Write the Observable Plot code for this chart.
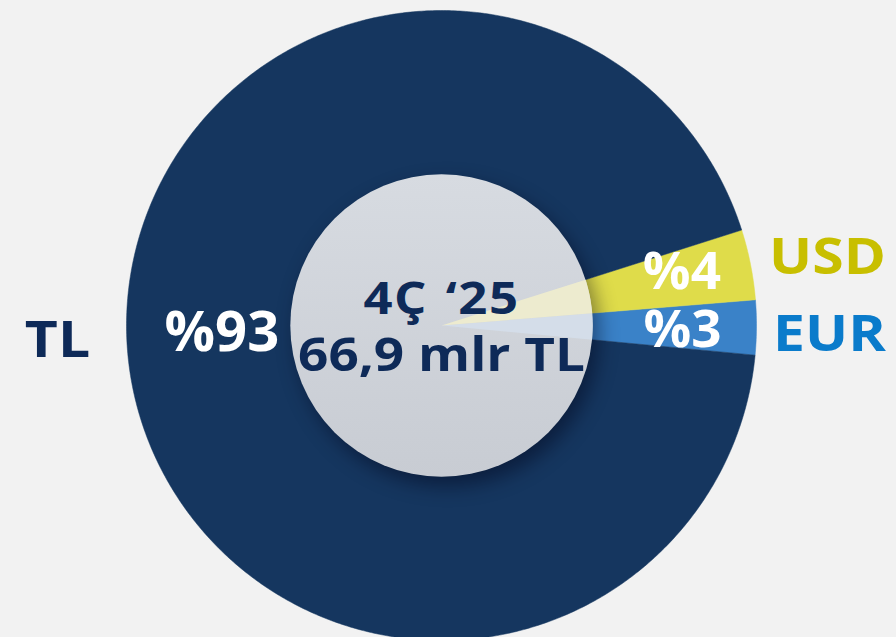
<!DOCTYPE html>
<html><head><meta charset="utf-8">
<script src="https://cdn.jsdelivr.net/npm/d3@7"></script>
<script src="https://cdn.jsdelivr.net/npm/@observablehq/plot@0.6"></script>
<style>
html,body{margin:0;padding:0;background:#f2f2f2;overflow:hidden;}
#chart svg{display:block;}
</style></head><body><div id="chart"></div>
<script>
// ---- data ----
const categories = ["EUR", "USD", "TL"];
const shares = [2.8, 3.6, 93.6];
const shareLabels = ["%3", "%4", "%93"];
const centerLines = ["4Ç ‘25", "66,9 mlr TL"];

// ---- layout / style ----
const W = 896, H = 637, R = 315, CX = 441, CY = 325;
const START = -5.4;           // degrees, counter-clockwise from east
const INNER = 0.48;           // inner disc radius (fraction of outer)
const LABEL_R = 0.765;
const colors = {EUR: "#3a82c8", USD: "#dfdc4a", TL: "#15365f"};
const paleColors = {EUR: "#d4deea", USD: "#efedcd"};
const labelColors = {EUR: "#0a7bcb", USD: "#c8bf00", TL: "#0e2a58"};
const navy = "#0e2a58";
const FONT = "'Open Sans', sans-serif";
const nudge = {EUR: [0, 3], USD: [4, -7], TL: [20, -18]};
const outside = {EUR: [829, 334], USD: [827, 257], TL: [57, 340]};
const px = p => (p - CX) / R, py = p => (CY - p) / R;

const total = d3.sum(shares);
let acc = START;
const slices = categories.map((c, i) => {
  const a0 = acc, a1 = acc + shares[i] / total * 360; acc = a1;
  return {cat: c, label: shareLabels[i], a0, a1, mid: (a0 + a1) / 2};
});
function wedge(s, r) {
  const pts = [{cat: s.cat, x: 0, y: 0}];
  const n = Math.max(2, Math.ceil((s.a1 - s.a0) / 0.5));
  for (let k = 0; k <= n; k++) {
    const a = (s.a0 + (s.a1 - s.a0) * k / n) * Math.PI / 180;
    pts.push({cat: s.cat, x: r * Math.cos(a), y: r * Math.sin(a)});
  }
  pts.push({cat: s.cat, x: 0, y: 0});
  return pts;
}
const rad = d => d * Math.PI / 180;

const plot = Plot.plot({
  width: W, height: H, margin: 0,
  style: {background: "transparent", overflow: "visible"},
  x: {domain: [px(0), px(W)], axis: null},
  y: {domain: [py(H), py(0)], axis: null},
  marks: [
    ...slices.map(s => Plot.line(wedge(s, 1), {x: "x", y: "y", fill: colors[s.cat], stroke: colors[s.cat], strokeWidth: 0.5})),
    Plot.dot([{x: 0, y: 0}], {x: "x", y: "y", r: INNER * R, fill: "url(#innerGrad)", stroke: null}),
    ...slices.filter(s => s.cat !== "TL").map(s => Plot.line(wedge(s, INNER), {x: "x", y: "y", fill: paleColors[s.cat], fillOpacity: 0.9, stroke: null})),
    Plot.text(slices, {
      x: s => LABEL_R * Math.cos(rad(s.mid)), y: s => LABEL_R * Math.sin(rad(s.mid)),
      text: "label", fill: "white", fontSize: s => s.cat === "TL" ? 55 : 52,
      fontWeight: 700, fontFamily: FONT, textAnchor: "middle", lineAnchor: "middle"
    }),
    Plot.text(categories, {
      x: c => px(outside[c][0]), y: c => py(outside[c][1]), text: c => c,
      fill: c => labelColors[c], fontSize: 51, fontWeight: 700, fontFamily: FONT,
      textAnchor: "middle", lineAnchor: "middle"
    }),
    Plot.text(centerLines, {
      x: () => 0, y: (d, i) => py(i === 0 ? 299 : 355), text: d => d,
      fill: navy, fontSize: (d, i) => i === 0 ? 45 : 47, fontWeight: 700, fontFamily: FONT,
      textAnchor: "middle", lineAnchor: "middle"
    })
  ]
});

const svg = d3.select(plot);
const defs = svg.insert("defs", ":first-child");
const g = defs.append("linearGradient").attr("id", "innerGrad").attr("x1", 0).attr("y1", 0).attr("x2", 0).attr("y2", 1);
g.append("stop").attr("offset", "0%").attr("stop-color", "#d7dbe1");
g.append("stop").attr("offset", "100%").attr("stop-color", "#c8ccd3");
svg.select("g[aria-label=dot]").style("filter", "drop-shadow(6px 9px 10px rgba(0,0,20,0.45))");
const textGroups = svg.selectAll("g[aria-label=text]").nodes();
function addTransform(sel, f) {
  sel.each(function(d, i) {
    const t = d3.select(this).attr("transform") || "";
    d3.select(this).attr("transform", t + " " + f(i));
  });
}
addTransform(d3.select(textGroups[0]).selectAll("text"), i => `translate(${nudge[slices[i].cat][0]},${nudge[slices[i].cat][1]}) scale(1.02,1)`);
addTransform(d3.select(textGroups[1]).selectAll("text"), () => "scale(1.12,1)");
addTransform(d3.select(textGroups[2]).selectAll("text"), () => "scale(1.13,1)");
d3.select(textGroups[2]).selectAll("text").filter((d, i) => i === 0).style("word-spacing", "0.06em").style("letter-spacing", "0.03em");
document.getElementById("chart").appendChild(plot);
</script></body></html>
